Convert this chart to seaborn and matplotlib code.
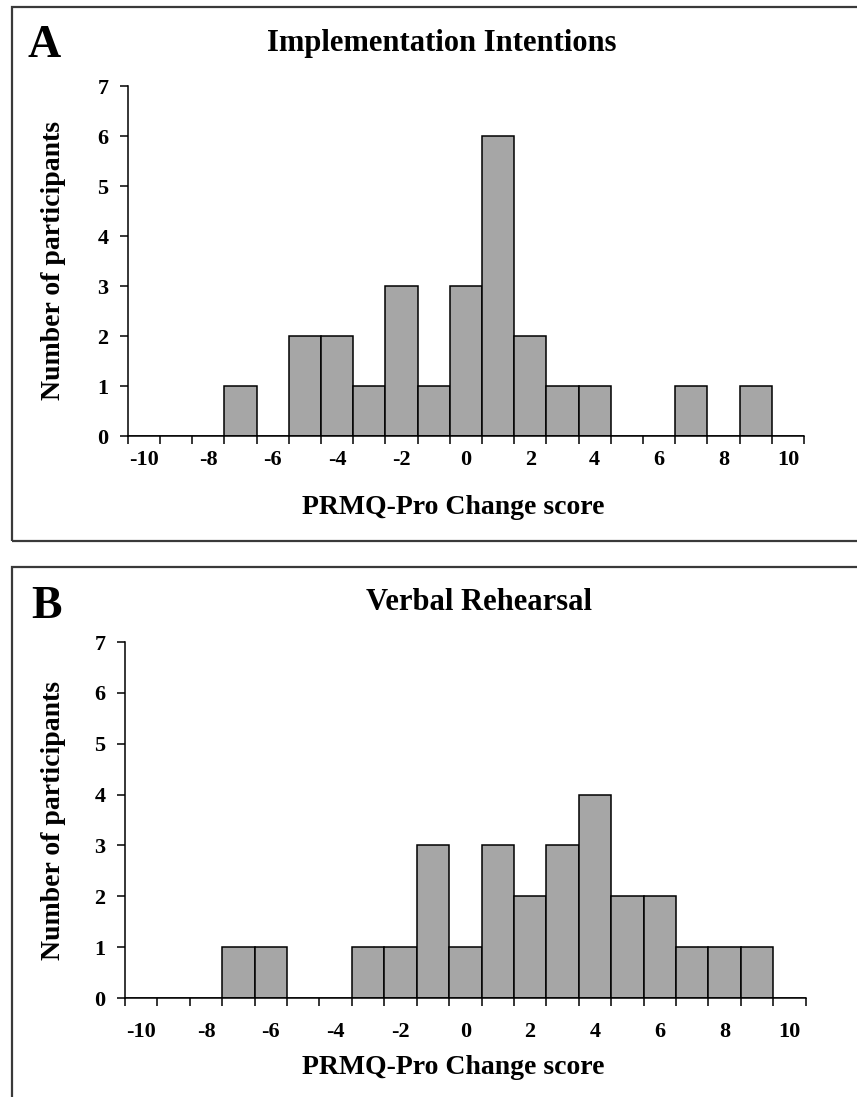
import matplotlib
matplotlib.use("Agg")
import matplotlib.pyplot as plt
import pandas as pd
import seaborn as sns
from matplotlib.patches import Rectangle

# change scores (categories) and participant counts per panel
scores = list(range(-10, 11))
counts_impl = [0, 0, 0, 1, 0, 2, 2, 1, 3, 1, 3, 6, 2, 1, 1, 0, 0, 1, 0, 1, 0]
counts_verbal = [0, 0, 0, 1, 1, 0, 0, 1, 1, 3, 1, 3, 2, 3, 4, 2, 2, 1, 1, 1, 0]
panel_letters = ["A", "B"]
panel_titles = ["Implementation Intentions", "Verbal Rehearsal"]
x_label = "PRMQ-Pro Change score"
y_label = "Number of participants"
y_ticks = list(range(0, 8))

W, H = 857, 1097
BAR_GREY = "#a6a6a6"

sns.set_style("ticks")
plt.rcParams["font.family"] = ["Liberation Serif", "DejaVu Serif"]
plt.rcParams["font.weight"] = "bold"
plt.rcParams["text.color"] = "black"
plt.rcParams["xtick.color"] = "black"
plt.rcParams["ytick.color"] = "black"
plt.rcParams["axes.labelcolor"] = "black"


def fx(px):
    return px / W


def fy(py):
    return 1 - py / H


def draw_panel(fig, counts, letter, title, ax_box, frame, title_xy, letter_xy,
               xlabel_y, tick_pad):
    x0, x1, y_top, y_zero = ax_box
    ax = fig.add_axes([fx(x0), fy(y_zero), fx(x1) - fx(x0), fy(y_top) - fy(y_zero)])
    df = pd.DataFrame({"score": scores, "count": counts})
    sns.barplot(data=df, x="score", y="count", order=scores, color=BAR_GREY,
                saturation=1, width=1.0, edgecolor="black", linewidth=1.1, ax=ax)

    ax.set_xlim(-0.5, len(scores) - 0.5)
    ax.set_ylim(0, 7)
    ax.set_yticks(y_ticks)
    ax.set_yticklabels([str(t) for t in y_ticks])
    # labels every other category, tick marks at category boundaries
    major = list(range(0, len(scores), 2))
    ax.set_xticks(major)
    ax.set_xticklabels([str(scores[i]) for i in major])
    ax.set_xticks([i - 0.5 for i in range(len(scores) + 1)], minor=True)
    ax.tick_params(axis="x", which="major", length=0, pad=tick_pad, labelsize=16,
                   labelcolor="black")
    ax.tick_params(axis="x", which="minor", length=6, width=1.1, direction="out",
                   color="black")
    ax.tick_params(axis="y", length=6, width=1.1, direction="out", pad=8, labelsize=16,
                   color="black", labelcolor="black")
    ax.set_xlabel("")
    ax.set_ylabel("")
    sns.despine(ax=ax)
    for side in ("left", "bottom"):
        ax.spines[side].set_linewidth(1.1)
        ax.spines[side].set_color("black")
    ax.set_facecolor("none")

    fig.text(fx(title_xy[0]), fy(title_xy[1]), title, ha="center", va="center",
             fontsize=22, fontweight="bold", color="black")
    fig.text(fx(letter_xy[0]), fy(letter_xy[1]), letter, ha="left", va="center",
             fontsize=33, fontweight="bold", color="black")
    fig.text(fx(453), fy(xlabel_y), x_label, ha="center", va="center",
             fontsize=20, fontweight="bold", color="black")
    fig.text(fx(53), fy((y_top + y_zero) / 2), y_label, ha="center", va="center",
             rotation=90, fontsize=20, fontweight="bold", color="black")

    # panel frame (runs off the right/bottom edge like the original)
    left, top, bottom = frame
    fig.add_artist(Rectangle((fx(left), fy(bottom)), 1.5, fy(top) - fy(bottom),
                             transform=fig.transFigure, fill=False,
                             edgecolor="#3a3a3a", linewidth=1.6, clip_on=False))
    return ax


fig = plt.figure(figsize=(W / 100, H / 100), dpi=100)
fig.patch.set_facecolor("white")

draw_panel(fig, counts_impl, panel_letters[0], panel_titles[0],
           ax_box=(127.7, 804, 86, 436), frame=(12, 7, 541),
           title_xy=(442, 43), letter_xy=(28, 46), xlabel_y=508, tick_pad=10)
draw_panel(fig, counts_verbal, panel_letters[1], panel_titles[1],
           ax_box=(125, 805.7, 642, 998), frame=(12, 567, 1200),
           title_xy=(479, 602), letter_xy=(31, 607), xlabel_y=1068, tick_pad=17)

fig.savefig("out.png", dpi=100)
